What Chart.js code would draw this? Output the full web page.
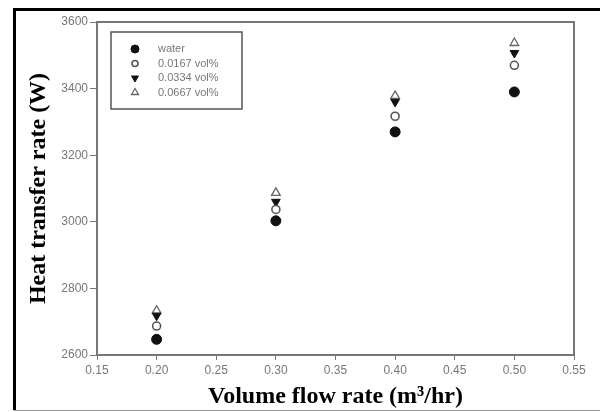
<!DOCTYPE html>
<html>
<head>
<meta charset="utf-8">
<script src="https://cdn.jsdelivr.net/npm/chart.js@4.4.0/dist/chart.umd.min.js"></script>
<style>
  html, body { margin: 0; padding: 0; background: #fff; }
  #wrap { width: 600px; height: 412px; position: relative; }
</style>
</head>
<body>
<div id="wrap"><canvas id="chart" width="600" height="412"></canvas></div>
<script>
// data
const flowRates = [0.20, 0.30, 0.40, 0.50];
const water = [2647, 3003, 3270, 3390];
const vol0167 = [2687, 3037, 3317, 3470];
const vol0334 = [2718, 3060, 3360, 3507];
const vol0667 = [2733, 3087, 3378, 3537];
const seriesNames = ["water", "0.0167 vol%", "0.0334 vol%", "0.0667 vol%"];
const xTicks = [0.15, 0.20, 0.25, 0.30, 0.35, 0.40, 0.45, 0.50, 0.55];
const yTicks = [2600, 2800, 3000, 3200, 3400, 3600];

const toPoints = vals => vals.map((v, i) => ({ x: flowRates[i], y: v }));

const datasets = [
    { label: seriesNames[0], data: toPoints(water), pointStyle: "circle", pointRadius: 5,
      backgroundColor: "#111", borderColor: "#111", borderWidth: 1 },
    { label: seriesNames[1], data: toPoints(vol0167), pointStyle: "circle", pointRadius: 4,
      backgroundColor: "#fff", borderColor: "#555", borderWidth: 1.6 },
    { label: seriesNames[2], data: toPoints(vol0334), pointStyle: "triangle", pointRadius: 5, rotation: 180,
      backgroundColor: "#111", borderColor: "#111", borderWidth: 1 },
    { label: seriesNames[3], data: toPoints(vol0667), pointStyle: "triangle", pointRadius: 5,
      backgroundColor: "#fff", borderColor: "#666", borderWidth: 1.3 }
];

// page frame, plot box and legend
const framePlugin = {
    id: "frame",
    beforeDraw(chart) {
        const ctx = chart.ctx;
        ctx.save();
        ctx.fillStyle = "#fff";
        ctx.fillRect(0, 0, chart.width, chart.height);
        ctx.restore();
    },
    afterDraw(chart) {
        const ctx = chart.ctx;
        const a = chart.chartArea;
        ctx.save();
        // outer black frame
        ctx.strokeStyle = "#000";
        ctx.lineWidth = 3;
        ctx.beginPath();
        ctx.moveTo(600, 9.5);
        ctx.lineTo(14.5, 9.5);
        ctx.lineTo(14.5, 410);
        ctx.stroke();
        ctx.strokeStyle = "#999";
        ctx.lineWidth = 1;
        ctx.beginPath();
        ctx.moveTo(14, 410.5);
        ctx.lineTo(600, 410.5);
        ctx.stroke();
        // plot box
        ctx.strokeStyle = "#777";
        ctx.lineWidth = 2;
        ctx.strokeRect(a.left, a.top, a.right - a.left, a.bottom - a.top);

        // legend box
        ctx.strokeStyle = "#555";
        ctx.lineWidth = 1.5;
        ctx.strokeRect(111, 32, 131, 77);
        ctx.font = "11px Arial, 'Liberation Sans', sans-serif";
        ctx.textBaseline = "middle";
        ctx.textAlign = "left";
        const rowY = [49, 63.5, 78, 92.5];
        chart.data.datasets.forEach((ds, i) => {
            ctx.fillStyle = ds.backgroundColor;
            ctx.strokeStyle = ds.borderColor;
            ctx.lineWidth = ds.borderWidth;
            Chart.helpers.drawPoint(ctx, {
                pointStyle: ds.pointStyle,
                rotation: ds.rotation || 0,
                radius: ds.pointRadius - 1,
                borderWidth: ds.borderWidth
            }, 135, rowY[i]);
            ctx.fillStyle = "#777";
            ctx.fillText(ds.label, 158, rowY[i]);
        });
        ctx.restore();
    }
};

const tickFont = { family: "Arial, 'Liberation Sans', sans-serif", size: 12 };
const titleFont = { family: "'Times New Roman', 'Liberation Serif', serif", size: 24, weight: "bold" };

new Chart(document.getElementById("chart"), {
    type: "scatter",
    data: { datasets },
    options: {
        responsive: false,
        animation: false,
        layout: { padding: { left: 0, top: 22, right: 26, bottom: 0 } },
        plugins: { legend: { display: false }, tooltip: { enabled: false } },
        scales: {
            x: {
                type: "linear",
                min: 0.15, max: 0.55,
                afterBuildTicks: s => { s.ticks = xTicks.map(v => ({ value: v })); },
                afterFit: s => { s.height = 57; },
                ticks: {
                    color: "#777", font: tickFont, padding: 3,
                    callback: v => v.toFixed(2)
                },
                grid: { display: true, drawOnChartArea: false, drawTicks: true, tickLength: 5, color: "#777" },
                border: { display: false },
                title: {
                    display: true, text: "Volume flow rate (m\u00b3/hr)",
                    color: "#000", font: titleFont, padding: { top: 2, bottom: 1 }
                }
            },
            y: {
                type: "linear",
                min: 2600, max: 3600,
                afterBuildTicks: s => { s.ticks = yTicks.map(v => ({ value: v })); },
                afterFit: s => { s.width = 97; },
                ticks: { color: "#777", font: tickFont, padding: 2, callback: v => String(v) },
                grid: { display: true, drawOnChartArea: false, drawTicks: true, tickLength: 7, color: "#777" },
                border: { display: false },
                title: {
                    display: true, text: "Heat transfer rate (W)",
                    color: "#000", font: titleFont, padding: { top: 24, bottom: 2 }
                }
            }
        }
    },
    plugins: [framePlugin]
});
</script>
</body>
</html>
